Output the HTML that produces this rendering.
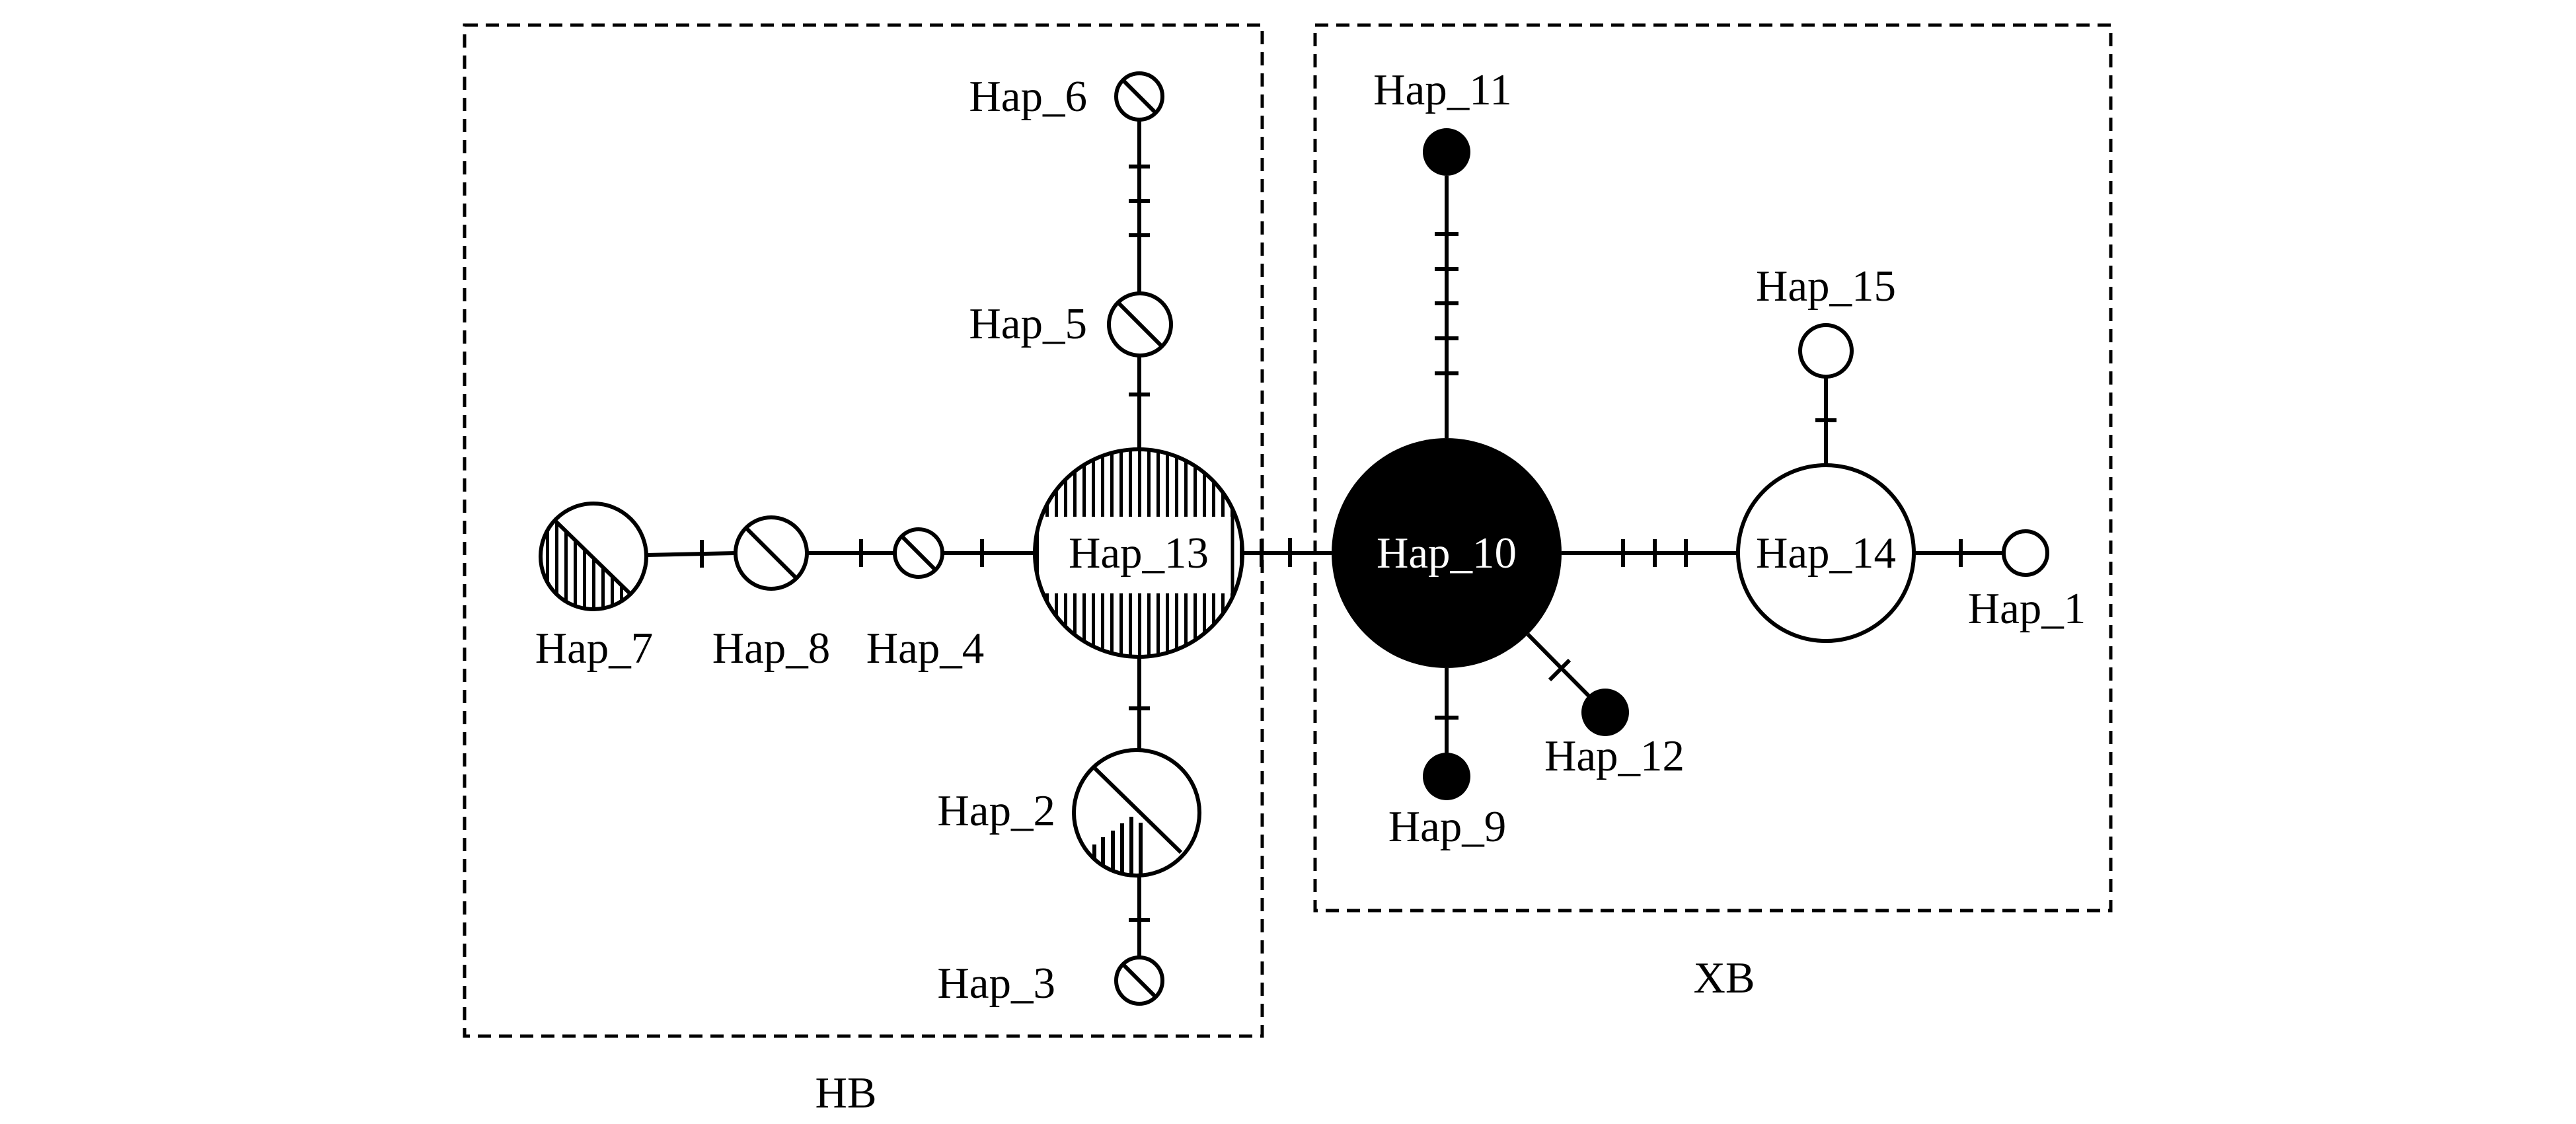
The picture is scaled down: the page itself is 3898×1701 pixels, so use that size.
<!DOCTYPE html>
<html><head><meta charset="utf-8"><style>
html,body{margin:0;padding:0;background:#fff;}
svg{display:block;}
text{font-family:"Liberation Serif",serif;font-size:67px;fill:#000;}
</style></head><body>
<svg width="3898" height="1701" viewBox="0 0 3898 1701" xmlns="http://www.w3.org/2000/svg">
<defs>
<pattern id="vh" x="0" y="0" width="14" height="20" patternUnits="userSpaceOnUse">
<rect x="0" y="0" width="5" height="20" fill="#000"/>
</pattern>
<clipPath id="c13"><circle cx="1723" cy="837" r="157"/></clipPath>
<clipPath id="c7"><circle cx="898" cy="842" r="80"/></clipPath>
<clipPath id="c2"><circle cx="1720" cy="1230" r="95"/></clipPath>
</defs>
<g fill="none" stroke="#000" stroke-width="5" stroke-dasharray="20,12">
<rect x="703" y="38" width="1207" height="1530"/>
<rect x="1990" y="38" width="1204" height="1340"/>
</g>
<g stroke="#000" stroke-width="6" fill="none">
<line x1="1724" y1="181" x2="1724" y2="444"/>
<line x1="1724" y1="538" x2="1724" y2="680"/>
<line x1="1724" y1="994" x2="1724" y2="1135"/>
<line x1="1724" y1="1325" x2="1724" y2="1449"/>
<line x1="978" y1="840" x2="1113" y2="837"/>
<line x1="1221" y1="837" x2="1354" y2="837"/>
<line x1="1426" y1="837" x2="1566" y2="837"/>
<line x1="1880" y1="837" x2="2015" y2="837"/>
<line x1="2189" y1="266" x2="2189" y2="663"/>
<line x1="2189" y1="1011" x2="2189" y2="1139"/>
<line x1="2312" y1="960" x2="2404" y2="1053"/>
<line x1="2363" y1="837" x2="2630" y2="837"/>
<line x1="2896" y1="837" x2="3032" y2="837"/>
<line x1="2763" y1="571" x2="2763" y2="704"/>
<line x1="1708" y1="252" x2="1740" y2="252"/>
<line x1="1708" y1="304" x2="1740" y2="304"/>
<line x1="1708" y1="356" x2="1740" y2="356"/>
<line x1="1708" y1="597" x2="1740" y2="597"/>
<line x1="1708" y1="1072" x2="1740" y2="1072"/>
<line x1="1708" y1="1392" x2="1740" y2="1392"/>
<line x1="2171" y1="354" x2="2207" y2="354"/>
<line x1="2171" y1="407" x2="2207" y2="407"/>
<line x1="2171" y1="459" x2="2207" y2="459"/>
<line x1="2171" y1="512" x2="2207" y2="512"/>
<line x1="2171" y1="565" x2="2207" y2="565"/>
<line x1="2171" y1="1086" x2="2207" y2="1086"/>
<line x1="2747" y1="636" x2="2779" y2="636"/>
<line x1="1062" y1="817" x2="1062" y2="859"/>
<line x1="1303" y1="816" x2="1303" y2="858"/>
<line x1="1486" y1="816" x2="1486" y2="858"/>
<line x1="1909" y1="816" x2="1909" y2="858"/>
<line x1="1952" y1="814" x2="1952" y2="858"/>
<line x1="2456" y1="816" x2="2456" y2="858"/>
<line x1="2504" y1="816" x2="2504" y2="858"/>
<line x1="2551" y1="816" x2="2551" y2="858"/>
<line x1="2967" y1="816" x2="2967" y2="858"/>
<line x1="2345" y1="1029" x2="2375" y2="999"/>
</g>
<g clip-path="url(#c13)">
<rect x="1560" y="670" width="330" height="340" fill="url(#vh)"/>
<rect x="1572" y="782" width="293" height="116" fill="#fff"/>
<line x1="1865" y1="782" x2="1865" y2="898" stroke="#000" stroke-width="5"/>
</g>
<circle cx="1723" cy="837" r="157" fill="none" stroke="#000" stroke-width="6"/>
<text x="1723" y="859" text-anchor="middle">Hap_13</text>
<circle cx="898" cy="842" r="80" fill="#fff"/>
<g clip-path="url(#c7)">
<polygon points="780,676 780,1000 1120,1000" fill="url(#vh)"/>
</g>
<g clip-path="url(#c7)"><polygon points="820,760 1000,760 1000,940 840,788" fill="#fff"/></g>
<circle cx="898" cy="842" r="80" fill="none" stroke="#000" stroke-width="6"/>
<line x1="840" y1="788" x2="952" y2="897" stroke="#000" stroke-width="6"/>
<circle cx="1720" cy="1230" r="95" fill="#fff"/>
<g clip-path="url(#c2)" stroke="#000" stroke-width="6">
<line x1="1656" y1="1278" x2="1656" y2="1340"/>
<line x1="1669" y1="1267" x2="1669" y2="1340"/>
<line x1="1684" y1="1257" x2="1684" y2="1340"/>
<line x1="1698" y1="1246" x2="1698" y2="1340"/>
<line x1="1712" y1="1236" x2="1712" y2="1340"/>
<line x1="1726" y1="1245" x2="1726" y2="1340"/>
</g>
<circle cx="1720" cy="1230" r="95" fill="none" stroke="#000" stroke-width="6"/>
<line x1="1657" y1="1163" x2="1787" y2="1290" stroke="#000" stroke-width="6"/>
<g fill="#fff" stroke="#000" stroke-width="6">
<circle cx="1724" cy="146" r="35"/>
<circle cx="1725" cy="491" r="47"/>
<circle cx="1167" cy="837" r="54"/>
<circle cx="1390" cy="837" r="36"/>
<circle cx="1724" cy="1484" r="35"/>
</g>
<g stroke="#000" stroke-width="6">
<line x1="1699" y1="121" x2="1749" y2="171"/>
<line x1="1692" y1="458" x2="1758" y2="524"/>
<line x1="1129" y1="799" x2="1205" y2="875"/>
<line x1="1365" y1="812" x2="1415" y2="862"/>
<line x1="1699" y1="1459" x2="1749" y2="1509"/>
</g>
<circle cx="2189" cy="837" r="174" fill="#000"/>
<circle cx="2189" cy="230" r="36" fill="#000"/>
<circle cx="2189" cy="1175" r="36" fill="#000"/>
<circle cx="2429" cy="1078" r="36" fill="#000"/>
<g fill="#fff" stroke="#000" stroke-width="6">
<circle cx="2763" cy="837" r="133"/>
<circle cx="3065" cy="837" r="33"/>
<circle cx="2763" cy="531" r="39"/>
</g>
<text x="2189" y="859" text-anchor="middle" style="fill:#fff">Hap_10</text>
<text x="2763" y="859" text-anchor="middle">Hap_14</text>
<text x="1645" y="168" text-anchor="end">Hap_6</text>
<text x="1645" y="512" text-anchor="end">Hap_5</text>
<text x="899" y="1003" text-anchor="middle">Hap_7</text>
<text x="1167" y="1003" text-anchor="middle">Hap_8</text>
<text x="1400" y="1003" text-anchor="middle">Hap_4</text>
<text x="1597" y="1249" text-anchor="end">Hap_2</text>
<text x="1597" y="1510" text-anchor="end">Hap_3</text>
<text x="1280" y="1676" text-anchor="middle">HB</text>
<text x="2183" y="158" text-anchor="middle">Hap_11</text>
<text x="2763" y="455" text-anchor="middle">Hap_15</text>
<text x="3067" y="943" text-anchor="middle">Hap_1</text>
<text x="2443" y="1166" text-anchor="middle">Hap_12</text>
<text x="2190" y="1273" text-anchor="middle">Hap_9</text>
<text x="2609" y="1502" text-anchor="middle">XB</text>
</svg>
</body></html>
